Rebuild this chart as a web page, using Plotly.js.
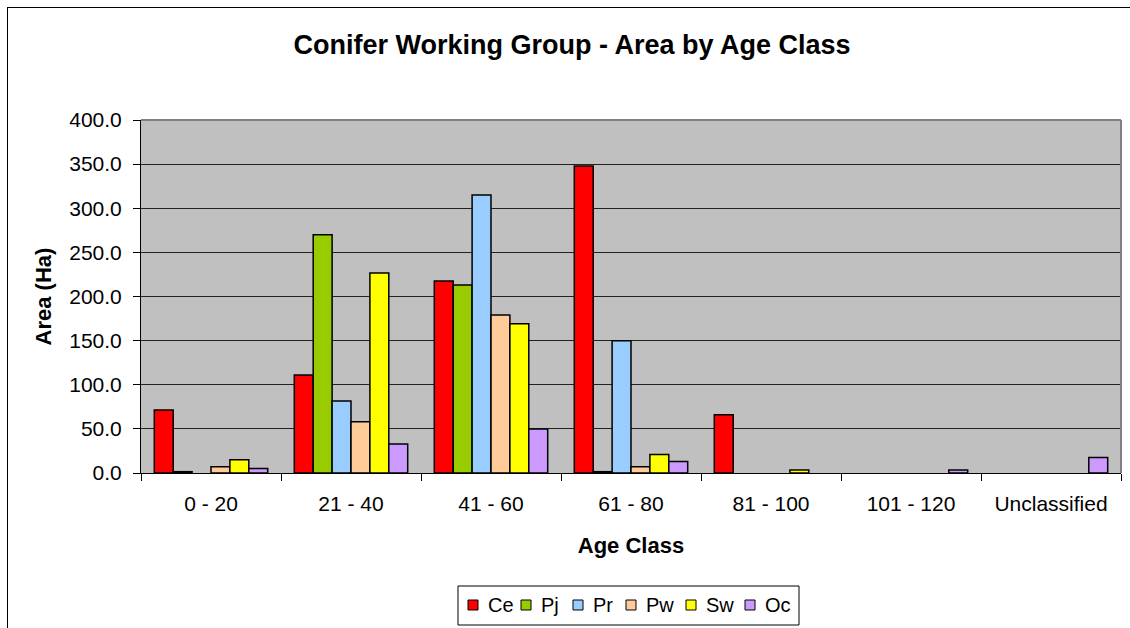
<!DOCTYPE html>
<html>
<head>
<meta charset="utf-8">
<script src="https://cdn.plot.ly/plotly-3.0.1.min.js"></script>
<style>
  html, body { margin: 0; padding: 0; background: #fff; }
  #wrap { position: relative; width: 1130px; height: 628px; overflow: hidden; }
  #chart { width: 1130px; height: 628px; }
  #frame { position: absolute; left: 7px; top: 7px; width: 1140px; height: 640px;
           border: 1px solid #000; box-sizing: border-box; pointer-events: none; }
</style>
</head>
<body>
<div id="wrap">
  <div id="chart"></div>
  <div id="frame"></div>
</div>
<script>
const categories = ["0 - 20", "21 - 40", "41 - 60", "61 - 80", "81 - 100", "101 - 120", "Unclassified"];
const seriesNames = ["Ce", "Pj", "Pr", "Pw", "Sw", "Oc"];
// null = no value in that age class (no bar drawn)
const ce = [71.5, 111.0, 217.5, 348.0, 66.0, null, null];
const pj = [1.5, 270.0, 213.0, 1.5, null, null, null];
const pr = [null, 81.5, 315.0, 150.0, null, null, null];
const pw = [7.0, 58.0, 179.0, 7.0, null, null, null];
const sw = [15.0, 226.5, 169.0, 21.0, 3.5, null, null];
const oc = [5.0, 33.0, 50.0, 13.0, null, 3.5, 17.5];
const colors = ["#FF0000", "#99CC00", "#99CCFF", "#FFCC99", "#FFFF00", "#CC99FF"];
const seriesValues = [ce, pj, pr, pw, sw, oc];

const traces = seriesValues.map((vals, i) => ({
  type: "bar",
  name: seriesNames[i],
  x: categories,
  y: vals,
  marker: { color: colors[i], line: { color: "#000", width: 1.5 } },
  showlegend: false,
  hoverinfo: "x+y+name"
}));

// plot-area geometry (pixels) used to place the hand-built legend box
const W = 1130, H = 628, ML = 141, MR = 9, MT = 120, MB = 155;
const PW = W - ML - MR, PH = H - MT - MB;
const px = x => (x - ML) / PW;
const py = y => (H - MB - y) / PH;

const font = "Liberation Sans, Arial, sans-serif";
const shapes = [
  { type: "line", xref: "paper", yref: "paper", x0: 0, x1: 1, y0: 1, y1: 1, line: { color: "#808080", width: 2 } },
  { type: "line", xref: "paper", yref: "paper", x0: 1, x1: 1, y0: 0, y1: 1, line: { color: "#808080", width: 2 } },
  { type: "rect", xref: "paper", yref: "paper", x0: px(458), x1: px(799), y0: py(586), y1: py(625),
    line: { color: "#000", width: 1 }, fillcolor: "#fff", layer: "above" }
];
const annotations = [];
const legendSquareX = [468, 521, 573, 626, 686, 745];
const legendCenterY = 605;
seriesNames.forEach((name, i) => {
  const sx = legendSquareX[i];
  shapes.push({ type: "rect", xref: "paper", yref: "paper",
    x0: px(sx), x1: px(sx + 10), y0: py(legendCenterY - 5), y1: py(legendCenterY + 5),
    line: { color: "#000", width: 1 }, fillcolor: colors[i], layer: "above" });
  annotations.push({ xref: "paper", yref: "paper", x: px(sx + 18), y: py(legendCenterY),
    xanchor: "left", yanchor: "middle", showarrow: false, text: name,
    font: { family: font, size: 20, color: "#000" } });
});

const layout = {
  width: W, height: H,
  margin: { l: ML, r: MR, t: MT, b: MB },
  paper_bgcolor: "#ffffff",
  plot_bgcolor: "#C0C0C0",
  font: { family: font, size: 21, color: "#000" },
  title: {
    text: "<b>Conifer Working Group - Area by Age Class</b>",
    font: { family: font, size: 27, color: "#000" },
    x: 572 / W, xref: "container", xanchor: "center",
    y: 1 - 45 / H, yref: "container", yanchor: "middle"
  },
  barmode: "group",
  bargap: 0.19,
  bargroupgap: 0,
  xaxis: {
    type: "category",
    tickson: "boundaries",
    ticks: "outside", ticklen: 7, tickcolor: "#000", tickwidth: 1,
    ticklabelstandoff: 12,
    showline: true, linecolor: "#000", linewidth: 1,
    showgrid: false,
    tickfont: { family: font, size: 21, color: "#000" },
    title: { text: "<b>Age Class</b>", font: { family: font, size: 22, color: "#000" }, standoff: 23 }
  },
  yaxis: {
    range: [0, 400], dtick: 50, tickformat: ".1f",
    ticks: "outside", ticklen: 7, tickcolor: "#000", tickwidth: 1,
    ticklabelstandoff: 7,
    showline: true, linecolor: "#000", linewidth: 1,
    showgrid: true, gridcolor: "#222", gridwidth: 1,
    zeroline: false,
    tickfont: { family: font, size: 21, color: "#000" },
    title: { text: "<b>Area (Ha)</b>", font: { family: font, size: 22, color: "#000" }, standoff: 11 }
  },
  showlegend: false,
  shapes: shapes,
  annotations: annotations
};

Plotly.newPlot("chart", traces, layout, { displayModeBar: false, staticPlot: true });
</script>
</body>
</html>
